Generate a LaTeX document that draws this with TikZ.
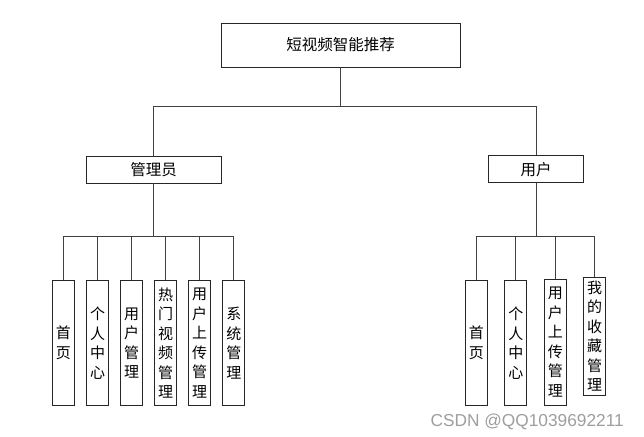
\documentclass[tikz,border=0pt]{standalone}
\usepackage{fontspec}
\newfontfamily\cjk{Noto Sans CJK SC}
\newfontfamily\wmfont{Liberation Sans}
\begin{document}
\begin{tikzpicture}[x=1pt,y=-1pt,
  box/.style={draw=black!85,line width=0.9pt,fill=white,inner sep=0pt,font=\cjk\fontsize{15.5}{17}\selectfont},
  leaf/.style={box,minimum width=22,align=center,font=\cjk\fontsize{15}{19.5}\selectfont},
  conn/.style={draw=black!75,line width=0.9pt}]
\useasboundingbox (0,0) rectangle (644,436);
\node[box,minimum width=239,minimum height=44] (root) at (340.5,45) {短视频智能推荐};
\node[box,minimum width=135,minimum height=27] (admin) at (153.5,169.5) {管理员};
\node[box,minimum width=95,minimum height=27] (user) at (536,169.2) {用户};
% admin leaves
\node[leaf,minimum height=124.3] (a1) at (63.3,343) {首\\页};
\node[leaf,minimum height=124.3] (a2) at (97.5,343) {个\\人\\中\\心};
\node[leaf,minimum height=124.3] (a3) at (131.5,343) {用\\户\\管\\理};
\node[leaf,minimum height=124.3] (a4) at (165.7,343) {热\\门\\视\\频\\管\\理};
\node[leaf,minimum height=124.3] (a5) at (199.5,343) {用\\户\\上\\传\\管\\理};
\node[leaf,minimum height=124.3] (a6) at (233.8,343) {系\\统\\管\\理};
% user leaves
\node[leaf,minimum height=124.3] (u1) at (476.3,343) {首\\页};
\node[leaf,minimum height=124.3] (u2) at (515.8,343) {个\\人\\中\\心};
\node[leaf,minimum height=126] (u3) at (555.3,342) {用\\户\\上\\传\\管\\理};
\node[leaf,minimum height=117.7] (u4) at (594.5,336.2) {我\\的\\收\\藏\\管\\理};
% connectors
\draw[conn] (root.south) -- ++(0,39) -| (admin.north);
\draw[conn] (root.south) -- ++(0,39) -| (user.north);
\foreach \n in {a1,a2,a3,a4,a5,a6}
  \draw[conn] (admin.south) -- ++(0,53) -| (\n.north);
\foreach \n in {u1,u2,u3,u4}
  \draw[conn] (user.south) -- ++(0,53.5) -| (\n.north);
\node[anchor=base east,text=black!38,font=\wmfont\fontsize{17.3}{17}\selectfont,inner sep=0pt] (wm) at (624,426.5) {CSDN @QQ1039692211};
\end{tikzpicture}
\end{document}
